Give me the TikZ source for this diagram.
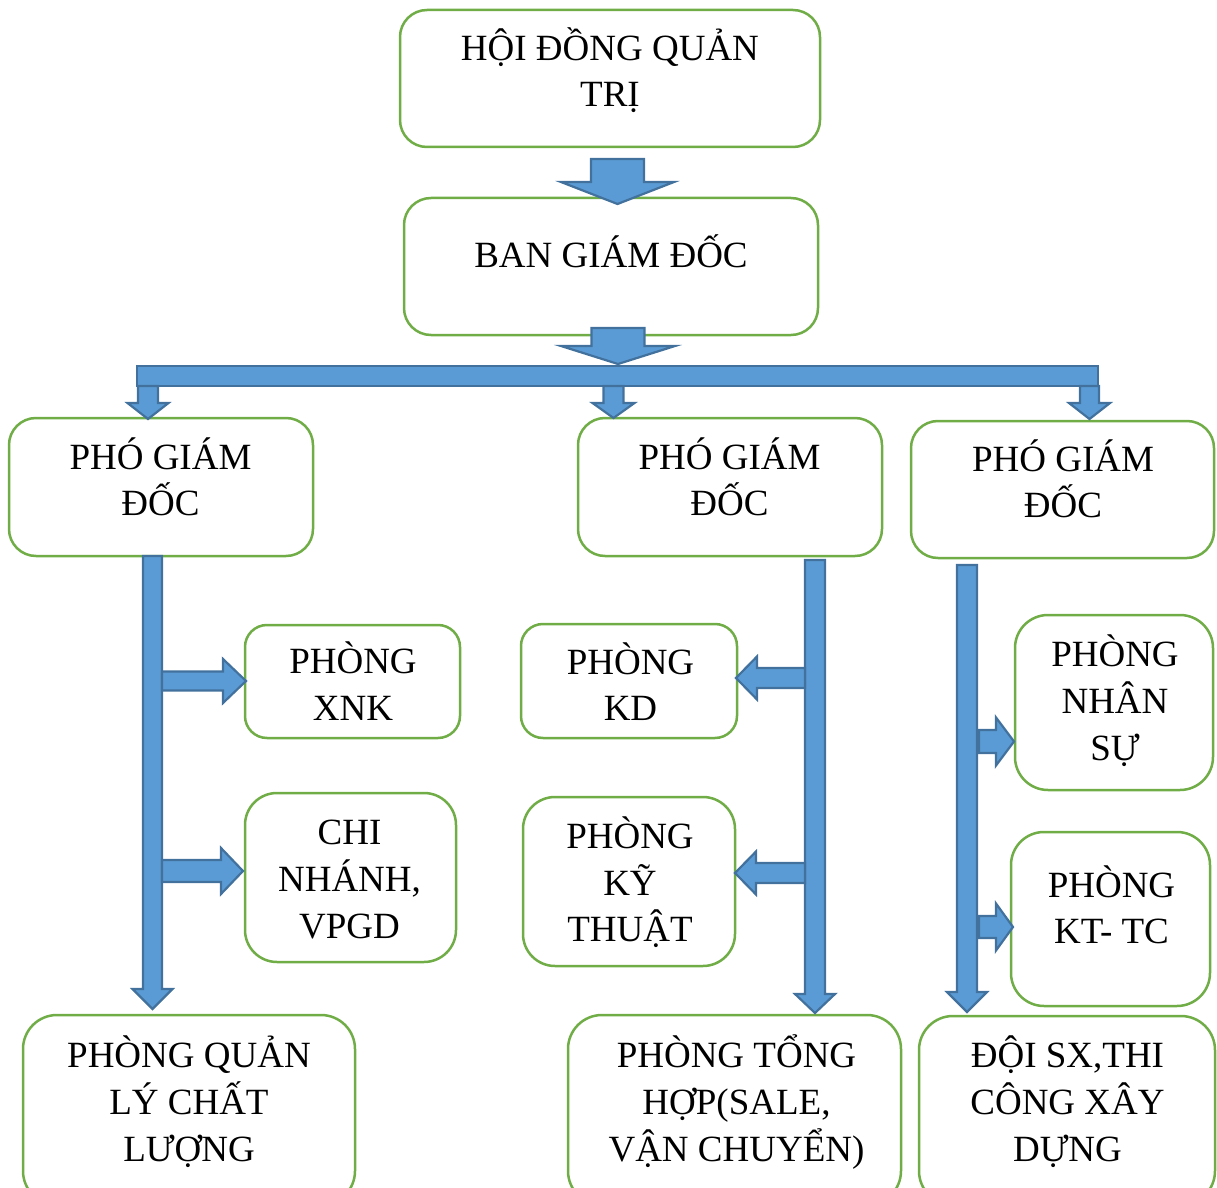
\documentclass[tikz,border=0pt]{standalone}
\usepackage{fontspec}
\setmainfont{Liberation Serif}
\definecolor{boxgreen}{HTML}{70AD47}
\definecolor{arrowfill}{HTML}{5B9BD5}
\definecolor{arrowline}{HTML}{41719C}
% struts fixing the top of the first line and the bottom of the last line
\newcommand\hi{\rule{0pt}{18pt}}
\newcommand\lo{\rule[-6pt]{0pt}{0pt}}
% rounded box: name, x1, y1, x2, y2 (px), corner radius (pt)
\newcommand\orgbox[6]{%
  \node[box, minimum width={(#4-#2)*0.5pt}, minimum height={(#5-#3)*0.5pt},
        rounded corners=#6pt] (#1) at ({(#2+#4)/2},{(#3+#5)/2}) {};}
% block arrows (px): centre line, start, head base, tip, shaft half width, head half width
\newcommand\arrdown[6]{%
  \filldraw[blk] (#1-#5,#2) -- (#1+#5,#2) -- (#1+#5,#3) -- (#1+#6,#3) -- (#1,#4)
    -- (#1-#6,#3) -- (#1-#5,#3) -- cycle;}
\newcommand\arrside[6]{%
  \filldraw[blk] (#2,#1-#5) -- (#3,#1-#5) -- (#3,#1-#6) -- (#4,#1) -- (#3,#1+#6)
    -- (#3,#1+#5) -- (#2,#1+#5) -- cycle;}
\tikzset{
  box/.style={draw=boxgreen, line width=1.25pt, fill=white, inner sep=0pt},
  blk/.style={fill=arrowfill, draw=arrowline, line width=1.1pt, line join=miter},
  lbl/.style={align=center, inner sep=0pt, font=\fontsize{18.5}{23.3}\selectfont}
}
\begin{document}
\begin{tikzpicture}[x=0.5pt, y=-0.5pt]
\useasboundingbox (0,0) rectangle (1217,1188);
\clip (0,0) rectangle (1217,1188);

% boxes
\orgbox{hdqt}{400}{10}{820}{147}{13.5}
\orgbox{bgd}{404}{198}{818}{335}{13.5}
\orgbox{pgdA}{9}{418}{313}{556}{13.5}
\orgbox{pgdB}{578}{418}{882}{556}{13.5}
\orgbox{pgdC}{911}{421}{1214}{558}{13.5}
\orgbox{xnk}{245}{625}{460}{738}{11}
\orgbox{cn}{245}{793}{456}{962}{16}
\orgbox{kd}{521}{624}{737}{738}{11}
\orgbox{kt}{523}{797}{735}{966}{16}
\orgbox{ns}{1015}{615}{1213}{790}{16.5}
\orgbox{kttc}{1011}{832}{1210}{1006}{16.5}
\orgbox{ql}{23}{1015}{355}{1205}{17}
\orgbox{th}{568}{1015}{901}{1205}{17}
\orgbox{doi}{919}{1016}{1215}{1205}{17}

% labels
\node[lbl] (hdqt-t) at (610,71.5) {\hi HỘI ĐỒNG QUẢN\\TRỊ\lo};
\node[lbl] (bgd-t) at (611,255) {\hi BAN GIÁM ĐỐC\lo};
\node[lbl] (pgdA-t) at (160.5,480.5) {\hi PHÓ GIÁM\\ĐỐC\lo};
\node[lbl] (pgdB-t) at (729.5,480.5) {\hi PHÓ GIÁM\\ĐỐC\lo};
\node[lbl] (pgdC-t) at (1063,482.5) {\hi PHÓ GIÁM\\ĐỐC\lo};
\node[lbl] (xnk-t) at (353,685) {\hi PHÒNG\\XNK\lo};
\node[lbl] (cn-t) at (349.5,879.5) {\hi CHI\\NHÁNH,\\VPGD\lo};
\node[lbl] (kd-t) at (630.5,685.5) {\hi PHÒNG\\KD\lo};
\node[lbl] (kt-t) at (630,883) {\hi PHÒNG\\KỸ\\THUẬT\lo};
\node[lbl] (ns-t) at (1115,701.5) {\hi PHÒNG\\NHÂN\\SỰ\lo};
\node[lbl] (kttc-t) at (1111.5,908.5) {\hi PHÒNG\\KT- TC\lo};
\node[lbl] (ql-t) at (189,1102.5) {\hi PHÒNG QUẢN\\LÝ CHẤT\\LƯỢNG\lo};
\node[lbl] (th-t) at (736.5,1102.5) {\hi PHÒNG TỔNG\\HỢP(SALE,\\VẬN CHUYỂN)\lo};
\node[lbl] (doi-t) at (1067.5,1102.5) {\hi ĐỘI SX,THI\\CÔNG XÂY\\DỰNG\lo};

% board -> directors -> distribution bar
\arrdown{617.5}{159}{182}{204}{26.5}{56.5}
\arrdown{618}{328}{346}{364}{26.5}{57}
\filldraw[blk] (137,366) rectangle (1098,386);
\arrdown{148}{386}{403}{419}{10}{20.5}
\arrdown{613.5}{386}{403}{418}{10}{21}
\arrdown{1089.5}{386}{403}{419}{9.5}{20.5}

% left branch
\arrdown{152.5}{556}{989}{1009}{9.5}{20}
\arrside{681}{162}{223}{246}{9.5}{22}
\arrside{871}{162}{221}{243}{11}{23}

% middle branch
\arrdown{815}{560}{994}{1013}{10}{20}
\arrside{678}{805}{757}{736}{10}{21.5}
\arrside{873}{805}{756}{735}{10}{21.5}

% right branch
\arrdown{967}{565}{992}{1012}{10}{20}
\arrside{741.5}{979}{996}{1014}{11.5}{24}
\arrside{927}{979}{996}{1013}{11}{23.5}
\end{tikzpicture}
\end{document}
